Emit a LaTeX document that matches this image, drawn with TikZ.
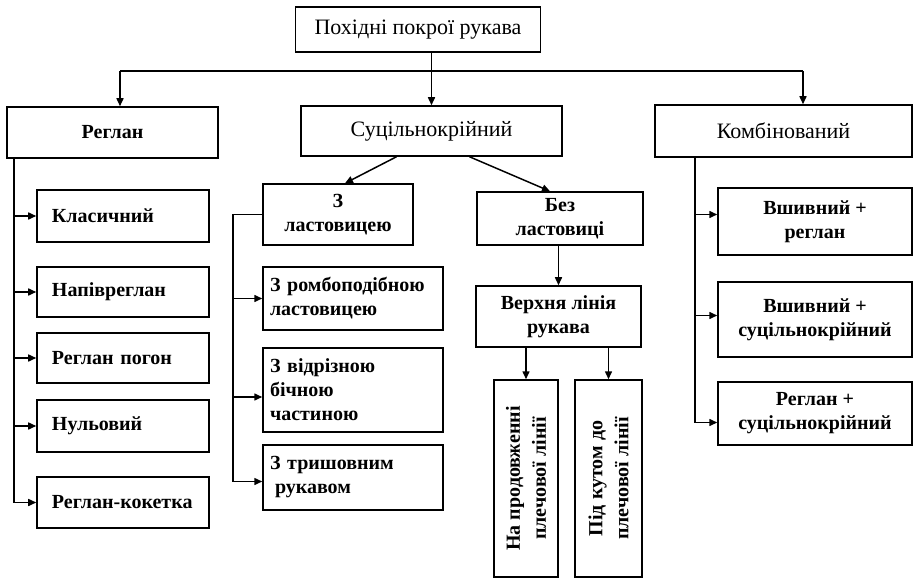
\documentclass[tikz,border=0pt]{standalone}
\usepackage{fontspec}
\setmainfont{Liberation Serif}
\usetikzlibrary{arrows.meta}
\begin{document}
\begin{tikzpicture}[x=1bp,y=-1bp,
  bx/.style={draw, line width=1.5bp, inner sep=0pt, align=center,
    font=\fontsize{20bp}{24bp}\selectfont\bfseries},
  rbx/.style={bx, font=\fontsize{22bp}{26bp}\selectfont},
  lbx/.style={bx, align=left, inner xsep=15bp, text width=#1},
  mbx/.style={bx, align=left, inner xsep=7bp, text width=#1},
  ln/.style={line width=1.5bp},
  arr/.style={line width=1.5bp, -{Triangle[length=8bp,width=7bp]}},
  rtxt/.style={rotate=90, align=center, font=\fontsize{20bp}{26bp}\selectfont\bfseries}
]
\useasboundingbox[fill=white] (0,0) rectangle (916,579);

% top
\node[rbx, minimum width=245bp, minimum height=45bp] (top) at (418,29.5) {Похідні покрої рукава};

% level 1
\node[bx, minimum width=211bp, minimum height=51bp] (regl) at (112.5,132.5) {Реглан};
\node[rbx, minimum width=261bp, minimum height=50bp] (sc) at (431.5,131) {Суцільнокрійний};
\node[rbx, minimum width=257bp, minimum height=52bp] (komb) at (783.5,131) {Комбінований};

% left column
\node[lbx=142bp, minimum width=172bp, minimum height=52bp] (klas) at (123,216) {Класичний};
\node[lbx=142bp, minimum width=172bp, minimum height=50bp] (napiv) at (123,292) {Напівреглан};
\node[lbx=142bp, minimum width=172bp, minimum height=50bp] (pogon) at (123,358) {Реглан погон};
\node[lbx=142bp, minimum width=172bp, minimum height=52bp] (nul) at (123,426) {Нульовий};
\node[lbx=142bp, minimum width=172bp, minimum height=51bp] (kok) at (123,502.5) {Реглан-кокетка};

% middle
\node[bx, minimum width=150bp, minimum height=61bp] (zl) at (338,214.5) {З\\ластовицею};
\node[bx, minimum width=166bp, minimum height=53bp] (bl) at (560,218.5) {Без\\ластовиці};
\node[mbx=166bp, minimum width=180bp, minimum height=63bp] (romb) at (353,298.5) {З ромбоподібною\\ластовицею};
\node[mbx=166bp, minimum width=180bp, minimum height=84bp] (vidr) at (353,390) {З відрізною\\бічною\\частиною};
\node[mbx=166bp, minimum width=180bp, minimum height=65bp] (trish) at (353,477.5) {З тришовним\\\hspace*{5bp}рукавом};
\node[bx, minimum width=165bp, minimum height=61bp] (vl) at (558.5,316.5) {Верхня лінія\\рукава};
\node[bx, minimum width=64bp, minimum height=197bp] (np) at (526,478.5) {};
\node[rtxt] at (np.center) {На продовженні\\плечової лінії};
\node[bx, minimum width=67bp, minimum height=197bp] (pk) at (608.5,478.5) {};
\node[rtxt] at (pk.center) {Під кутом до\\плечової лінії};

% right column
\node[bx, minimum width=194bp, minimum height=67bp] (v1) at (815,221.5) {Вшивний +\\реглан};
\node[bx, minimum width=194bp, minimum height=75bp] (v2) at (815,319.5) {Вшивний +\\суцільнокрійний};
\node[bx, minimum width=194bp, minimum height=63bp] (v3) at (815,413.5) {Реглан +\\суцільнокрійний};

% connectors top level
\coordinate (hL) at (120,71);
\coordinate (hR) at (803,71);
\draw[arr] (top.south -| sc.north) -- (sc.north);
\draw[ln] (hL) -- (hR);
\draw[arr] (hL) -- (hL |- regl.north);
\draw[arr] (hR) -- (hR |- komb.north);

% left column connectors
\coordinate (lx) at (14,0);
\draw[arr] (regl.south -| lx) |- (kok.west);
\draw[arr] (lx |- klas.west) -- (klas.west);
\draw[arr] (lx |- napiv.west) -- (napiv.west);
\draw[arr] (lx |- pogon.west) -- (pogon.west);
\draw[arr] (lx |- nul.west) -- (nul.west);

% middle connectors
\draw[arr] ([xshift=-35bp]sc.south) -- ([xshift=7bp]zl.north);
\draw[arr] ([xshift=38bp]sc.south) -- ([xshift=-10bp]bl.north);
\coordinate (mx) at (233,0);
\draw[arr] (zl.west) -- (zl.west -| mx) |- ([yshift=-4bp]trish.west);
\draw[arr] (mx |- romb.west) -- (romb.west);
\draw[arr] ([yshift=-7bp]vidr.west -| mx) -- ([yshift=-7bp]vidr.west);
\draw[arr] (bl.south -| vl.north) -- (vl.north);
\draw[arr] (vl.south -| np.north) -- (np.north);
\draw[arr] (vl.south -| pk.north) -- (pk.north);

% right connectors
\coordinate (rx) at (695,0);
\draw[arr] (komb.south -| rx) |- ([yshift=-9bp]v3.west);
\draw[arr] ([yshift=7bp]v1.west -| rx) -- ([yshift=7bp]v1.west);
\draw[arr] ([yshift=4bp]v2.west -| rx) -- ([yshift=4bp]v2.west);
\end{tikzpicture}
\end{document}
